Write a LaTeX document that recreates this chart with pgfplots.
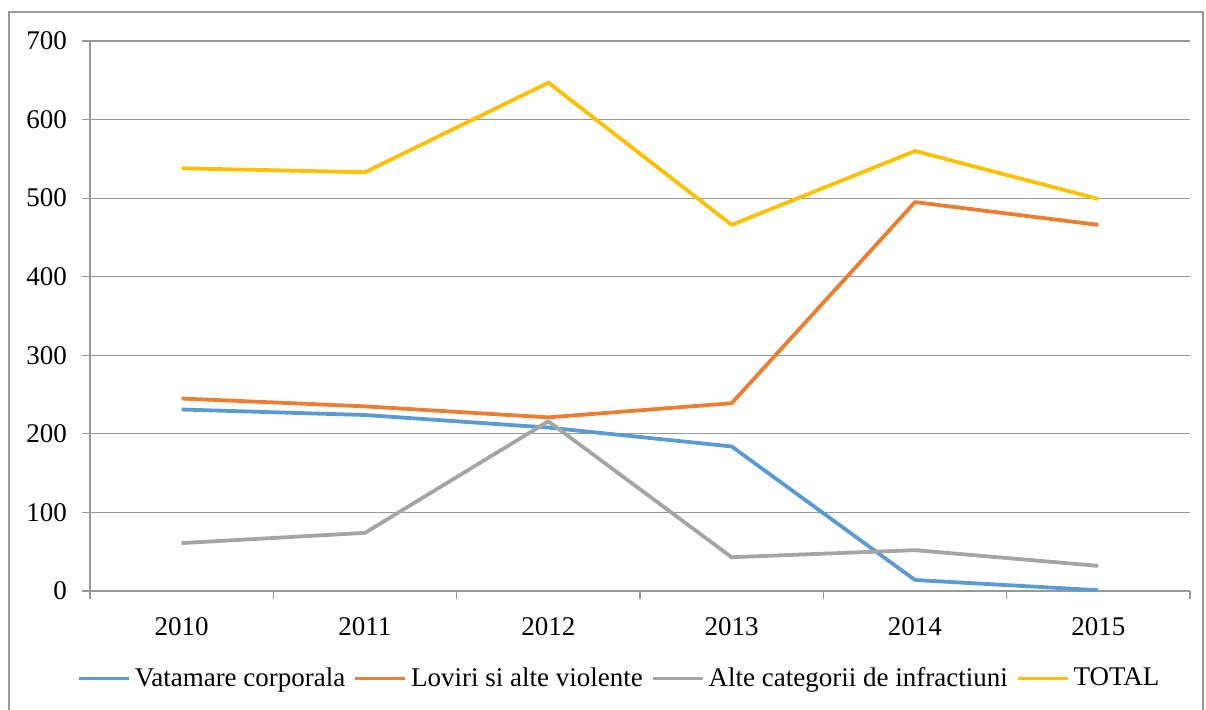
\documentclass[border=0pt]{standalone}
\usepackage{pgfplots}
\pgfplotsset{compat=1.18}
\usepackage{fontspec}
\setmainfont{Liberation Serif}
\definecolor{cblue}{HTML}{5B9BD5}
\definecolor{corange}{HTML}{ED7D31}
\definecolor{cgray}{HTML}{A5A5A5}
\definecolor{cyellow}{HTML}{FFC000}
\definecolor{axgray}{HTML}{989898}
\begin{document}
\begin{tikzpicture}
\begin{axis}[
  at={(0,0)}, anchor=south west,
  scale only axis,
  width=550pt, height=275pt,
  xmin=0.5, xmax=6.5,
  ymin=0, ymax=700,
  ytick={0,100,...,700},
  xtick={1,...,6},
  xticklabels={2010,2011,2012,2013,2014,2015},
  major x tick style={draw=none},
  minor xtick={0.5,1.5,...,6.5},
  minor tick length=4pt,
  major tick length=4pt,
  tick align=outside,
  tick style={axgray, line width=0.6pt},
  axis x line*=bottom,
  axis y line*=left,
  axis line style={axgray, line width=0.6pt, -},
  ymajorgrids,
  grid style={axgray, line width=0.6pt},
  tick label style={font=\fontsize{13.5}{15}\selectfont},
  /pgf/number format/assume math mode=true,
  yticklabel style={xshift=-4pt},
  xticklabel style={yshift=-5.5pt},
  legend style={at={(0.482,-0.159)}, anchor=center, draw=none,
    font=\fontsize{13.5}{15}\selectfont, legend columns=-1,
    /tikz/every even column/.append style={column sep=2pt}},
  legend image code/.code={\draw[#1] (0pt,0pt) -- (25pt,0pt);},
  every axis plot/.append style={line width=1.9pt, line join=round},
]
\addplot[cblue] coordinates {(1,231) (2,224) (3,208) (4,184) (5,14) (6,1)};
\addplot[corange] coordinates {(1,245) (2,235) (3,221) (4,239) (5,495) (6,466)};
\addplot[cgray] coordinates {(1,61) (2,74) (3,216) (4,43) (5,52) (6,32)};
\addplot[cyellow] coordinates {(1,538) (2,533) (3,647) (4,466) (5,560) (6,499)};
\legend{Vatamare corporala, Loviri si alte violente, Alte categorii de infractiuni, TOTAL}
\end{axis}
\draw[axgray, line width=0.6pt] (-40.5pt,-80pt) -- (-40.5pt,289.5pt) -- (556.5pt,289.5pt) -- (556.5pt,-80pt);
\pgfresetboundingbox
\useasboundingbox (-45pt,-59pt) rectangle (558pt,295.5pt);
\end{tikzpicture}
\end{document}
